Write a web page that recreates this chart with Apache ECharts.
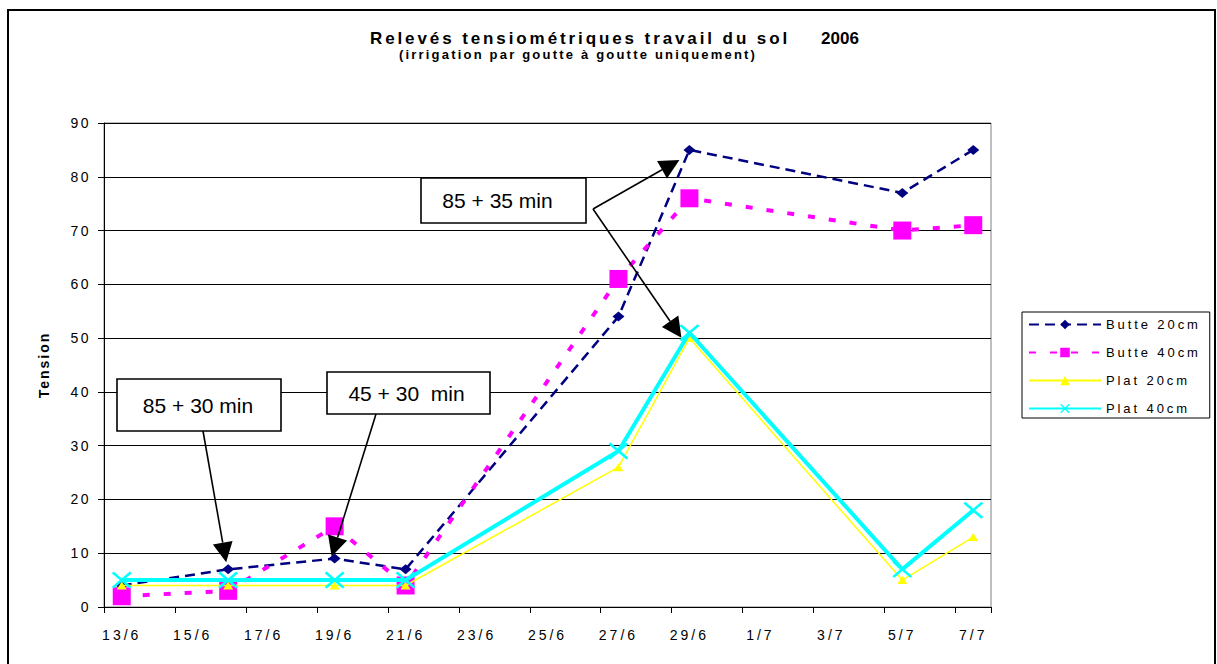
<!DOCTYPE html>
<html>
<head>
<meta charset="utf-8">
<script src="https://cdn.jsdelivr.net/npm/echarts@6/dist/echarts.min.js"></script>
<style>
html,body{margin:0;padding:0;background:#fff;}
#chart{width:1217px;height:664px;}
</style>
</head>
<body>
<div id="chart"></div>
<script>
// ---- data ----
const days = ['13/6','14/6','15/6','16/6','17/6','18/6','19/6','20/6','21/6','22/6','23/6','24/6','25/6','26/6','27/6','28/6','29/6','30/6','1/7','2/7','3/7','4/7','5/7','6/7','7/7'];
const sampleDates = ['13/6','16/6','19/6','21/6','27/6','29/6','5/7','7/7'];
const butte20 = [4, 7, 9, 7, 54, 85, 77, 85];
const butte40 = [2, 3, 15, 4, 61, 76, 70, 71];
const plat20  = [4, 4, 4, 4, 26, 50, 5, 13];
const plat40  = [5, 5, 5, 5, 29, 51, 7, 18];
const seriesNames = ['Butte 20cm', 'Butte 40cm', 'Plat 20cm', 'Plat 40cm'];
const yTicks = [0, 10, 20, 30, 40, 50, 60, 70, 80, 90];
const titleText = 'Relevés tensiométriques travail du sol';
const subtitleText = '(irrigation par goutte à goutte uniquement)';
const yearText = '2006';
const yName = 'Tension';
const annotations = [
  {text: '85 + 30 min', date: '16/6', series: 0},
  {text: '45 + 30  min', date: '19/6', series: 0},
  {text: '85 + 35 min', date: '29/6', series: 0},
  {text: '85 + 35 min', date: '29/6', series: 3}
];

const pairs = vals => sampleDates.map((d, i) => [d, vals[i]]);
const FONT = 'Liberation Sans, Arial, sans-serif';
const xSymbol = 'path://M0,2 L2,0 L10,8 L18,0 L20,2 L12,10 L20,18 L18,20 L10,12 L2,20 L0,18 L8,10 Z';

const chart = echarts.init(document.getElementById('chart'), null, {renderer: 'svg'});

chart.setOption({
  animation: false,
  backgroundColor: '#ffffff',
  title: [
    {text: titleText, left: 580, top: 30, textAlign: 'center', padding: 0,
     textStyle: {fontFamily: FONT, fontSize: 17, lineHeight: 16, fontWeight: 'bold', color: '#000'}},
    {text: yearText, left: 840, top: 30, textAlign: 'center', padding: 0,
     textStyle: {fontFamily: FONT, fontSize: 17, lineHeight: 16, fontWeight: 'bold', color: '#000'}},
    {text: subtitleText, left: 578, top: 47, textAlign: 'center', padding: 0,
     textStyle: {fontFamily: FONT, fontSize: 13, lineHeight: 14, fontWeight: 'bold', color: '#000'}}
  ],
  legend: {
    orient: 'vertical',
    left: 1022, top: 312,
    padding: [6, 38, 3, 6],
    itemWidth: 72, itemHeight: 12, itemGap: 15,
    borderColor: '#000', borderWidth: 1,
    backgroundColor: '#fff',
    textStyle: {fontFamily: FONT, fontSize: 13, color: '#000'},
    data: seriesNames
  },
  grid: {left: 104, right: 226, top: 123, bottom: 57, show: true, borderColor: '#808080', borderWidth: 1, backgroundColor: '#fff'},
  xAxis: {
    type: 'category',
    data: days,
    boundaryGap: true,
    axisLine: {lineStyle: {color: '#000', width: 1}},
    axisTick: {show: true, interval: 1, length: 6, lineStyle: {color: '#000'}},
    axisLabel: {interval: 1, margin: 21, fontFamily: FONT, fontSize: 14, color: '#000'},
    splitLine: {show: false}
  },
  yAxis: {
    type: 'value',
    min: yTicks[0], max: yTicks[yTicks.length - 1], interval: 10,
    name: yName, nameLocation: 'middle', nameGap: 53,
    nameTextStyle: {fontFamily: FONT, fontSize: 14, fontWeight: 'bold', color: '#000'},
    axisLine: {show: true, lineStyle: {color: '#000', width: 1}},
    axisTick: {show: true, length: 6, lineStyle: {color: '#000'}},
    axisLabel: {margin: 13, fontFamily: FONT, fontSize: 14, color: '#000'},
    splitLine: {show: true, lineStyle: {color: '#000', width: 1}}
  },
  series: [
    {name: seriesNames[0], type: 'line', data: pairs(butte20), connectNulls: true,
     symbol: 'diamond', symbolSize: [12, 10],
     lineStyle: {color: '#000080', width: 2.5, type: [10, 6]},
     itemStyle: {color: '#000080'}, z: 2},
    {name: seriesNames[1], type: 'line', data: pairs(butte40), connectNulls: true,
     symbol: 'rect', symbolSize: 18,
     lineStyle: {color: '#ff00ff', width: 4, type: [7, 14]},
     itemStyle: {color: '#ff00ff'}, z: 3},
    {name: seriesNames[2], type: 'line', data: pairs(plat20), connectNulls: true,
     symbol: 'triangle', symbolSize: [10, 8],
     lineStyle: {color: '#ffff00', width: 1.5, type: 'solid'},
     itemStyle: {color: '#ffff00'}, z: 4},
    {name: seriesNames[3], type: 'line', data: pairs(plat40), connectNulls: true,
     symbol: xSymbol, symbolSize: [20, 17],
     lineStyle: {color: '#00ffff', width: 4, type: 'solid'},
     itemStyle: {color: '#00ffff'}, z: 5}
  ]
});

// ---- annotations (callout boxes with arrows) ----
const allVals = [butte20, butte40, plat20, plat40];
function px(a) {
  const v = allVals[a.series][sampleDates.indexOf(a.date)];
  return chart.convertToPixel({xAxisIndex: 0, yAxisIndex: 0}, [a.date, v]);
}
function arrow(x1, y1, x2, y2) {
  const dx = x2 - x1, dy = y2 - y1, len = Math.sqrt(dx * dx + dy * dy);
  const ux = dx / len, uy = dy / len, L = 20, W = 10;
  const bx = x2 - ux * L, by = y2 - uy * L;
  return [
    {type: 'line', z: 100, shape: {x1: x1, y1: y1, x2: bx, y2: by}, style: {stroke: '#000', lineWidth: 1.6}},
    {type: 'polygon', z: 100, shape: {points: [[x2, y2], [bx - uy * W, by + ux * W], [bx + uy * W, by - ux * W]]}, style: {fill: '#000'}}
  ];
}
function box(x, y, w, h, text, dx) {
  return [
    {type: 'rect', z: 101, shape: {x: x, y: y, width: w, height: h}, style: {fill: '#fff', stroke: '#000', lineWidth: 1.6}},
    {type: 'text', z: 102, x: x + w / 2 + dx, y: y + h / 2, style: {text: text, fill: '#000', font: '21px ' + FONT, align: 'center', verticalAlign: 'middle'}}
  ];
}
const t0 = px(annotations[0]), t1 = px(annotations[1]), t2 = px(annotations[2]), t3 = px(annotations[3]);
const g = [
  {type: 'rect', z: 0, shape: {x: 8, y: 10, width: 1207, height: 700}, style: {fill: 'none', stroke: '#000', lineWidth: 2}}
]
  .concat(arrow(203, 431, t0[0] - 2, t0[1] - 7))
  .concat(arrow(376, 414, t1[0] - 3, t1[1] - 2))
  .concat(arrow(593, 209, t2[0] - 10, t2[1] + 10))
  .concat(arrow(593, 209, t3[0] - 8, t3[1] + 5))
  .concat(box(117, 379, 164, 52, annotations[0].text, -1))
  .concat(box(327, 372, 163, 42, annotations[1].text, -2))
  .concat(box(421, 178, 165, 45, annotations[2].text, -6));
chart.setOption({graphic: g});

// ---- letter spacing like the original export (SVG text attribute) ----
function applySpacing() {
  const texts = document.querySelectorAll('#chart svg text');
  texts.forEach(function (t) {
    const s = t.textContent;
    let sp = null;
    if (s === titleText) { sp = 2.9; }
    else if (s === subtitleText) { sp = 2.2; }
    else if (seriesNames.indexOf(s) >= 0) { sp = 2.9; }
    else if (days.indexOf(s) >= 0) { sp = 3; }
    else if (s === yName) { sp = 2; }
    else if (yTicks.map(String).indexOf(s) >= 0) { sp = 2.5; }
    if (sp !== null) {
      t.setAttribute('letter-spacing', sp);
      t.style.letterSpacing = sp + 'px';
    }
  });
}
applySpacing();
chart.on('finished', applySpacing);
setTimeout(applySpacing, 0);
</script>
</body>
</html>
